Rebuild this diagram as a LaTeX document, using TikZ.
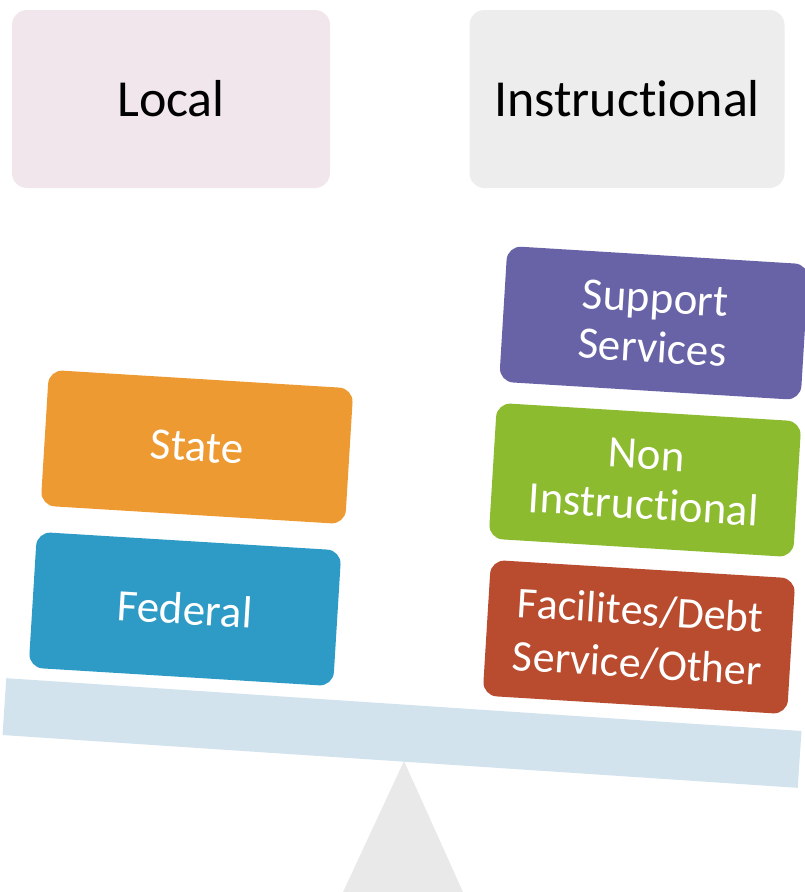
\documentclass[tikz,border=0pt]{standalone}
\usepackage{fontspec}
\setmainfont{Carlito}[Ligatures=NoCommon]
\definecolor{localC}{HTML}{F1E6EC}
\definecolor{instrC}{HTML}{EEEDEE}
\definecolor{stateC}{HTML}{EE9A32}
\definecolor{fedC}{HTML}{2E9BC6}
\definecolor{suppC}{HTML}{6763A6}
\definecolor{nonC}{HTML}{8CBB30}
\definecolor{facC}{HTML}{B94B2E}
\definecolor{beamC}{HTML}{D3E3EE}
\definecolor{triC}{HTML}{E9E9E9}
\tikzset{
  topbox/.style={rounded corners=15pt, minimum width=318pt, minimum height=178pt, inner sep=0pt,
    font=\fontsize{52}{56}\selectfont, text=black},
  cbox/.style={rounded corners=14pt, minimum width=305pt, minimum height=136pt, inner sep=0pt,
    rotate=-3.5, align=center, text=white, font=\fontsize{45}{50}\selectfont},
  beambox/.style={rotate=-3.8, minimum width=797pt, minimum height=57pt, inner sep=0pt, fill=beamC},
}
\begin{document}
\begin{tikzpicture}[x=1pt,y=-1pt]
\useasboundingbox (0,0) rectangle (804,892);
\node[topbox, fill=localC] (local) at (171,99) {Local};
\node[topbox, fill=instrC, minimum width=315pt] (instr) at (627,99) {Instructional};
% fulcrum and beam
\coordinate (apex) at (404,761);
\coordinate (baseR) at (463,892);
\coordinate (baseL) at (343,892);
\fill[triC] (apex) -- (baseR) -- (baseL) -- cycle;
\node[beambox] (beam) at (402,733) {};
% left stack
\node[cbox, fill=stateC] (state) at (197,447) {State};
\node[cbox, fill=fedC] (federal) at (185,609) {Federal};
% right stack
\node[cbox, fill=suppC, minimum width=302pt] (support) at (654,323) {Support\\Services};
\node[cbox, fill=nonC] (non) at (645,480) {Non\\Instructional};
\node[cbox, fill=facC, font=\fontsize{44}{53}\selectfont] (fac) at (639,637) {Facilites/Debt\\Service/Other};
\end{tikzpicture}
\end{document}
